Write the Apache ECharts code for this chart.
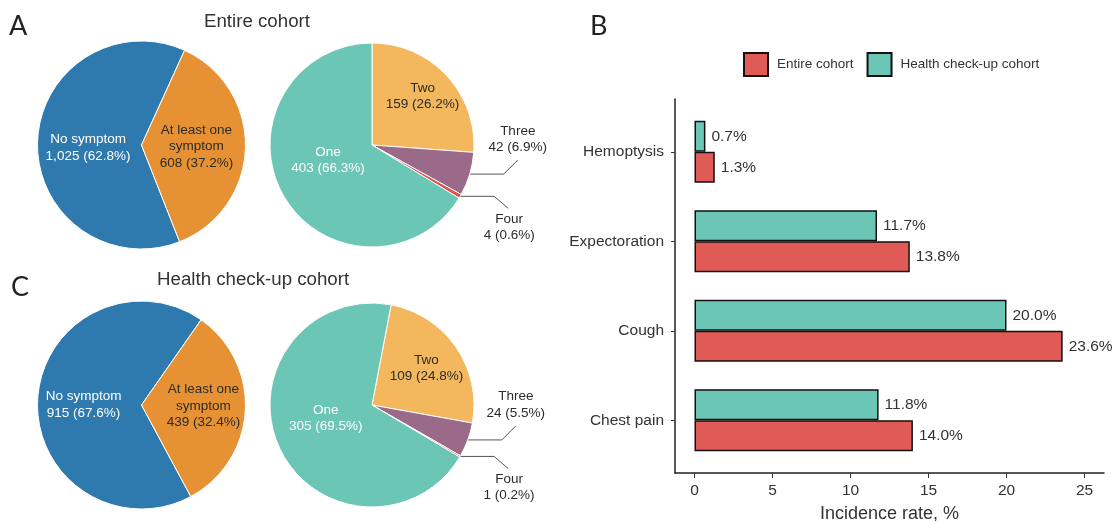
<!DOCTYPE html>
<html>
<head>
<meta charset="utf-8">
<script src="https://cdn.jsdelivr.net/npm/echarts@6/dist/echarts.min.js"></script>
<style>
  html, body { margin: 0; padding: 0; background: #fff; }
  #main { width: 1113px; height: 521px; }
</style>
</head>
<body>
<div id="main"></div>
<script>
// pie data (percent labels as printed in the figure)
var symptomNames = ['No symptom', 'At least one\nsymptom'];
var entireSymptom = [1025, 608];
var entireSymptomPct = [62.8, 37.2];
var checkupSymptom = [915, 439];
var checkupSymptomPct = [67.6, 32.4];
var countNames = ['Two', 'Three', 'Four', 'One'];
var entireCounts = [159, 42, 4, 403];
var entireCountPct = [26.2, 6.9, 0.6, 66.3];
var checkupCounts = [109, 24, 1, 305];
var checkupCountPct = [24.8, 5.5, 0.2, 69.5];

// bar data
var symptoms = ['Chest pain', 'Cough', 'Expectoration', 'Hemoptysis'];
var entireRate = [14.0, 23.6, 13.8, 1.3];
var checkupRate = [11.8, 20.0, 11.7, 0.7];
var xTicks = [0, 5, 10, 15, 20, 25];
var xMin = -1.25, xMax = 26.25;

var FONT = '"Liberation Sans", Arial, sans-serif';
var symptomColors = ['#2e79ad', '#e69234'];
var countColors = ['#f3b75d', '#9a6a88', '#e0504c', '#6cc6b6'];

function makeLabel(pcts) {
    return function (p) {
        return p.name + '\n' + echarts.format.addCommas(p.value) + ' (' + pcts[p.dataIndex].toFixed(1) + '%)';
    };
}

function symptomPie(values, pcts, center, startAngle, shifts) {
    return {
        type: 'pie',
        center: center,
        radius: 104,
        startAngle: startAngle,
        itemStyle: { borderColor: '#fff', borderWidth: 1 },
        label: {
            position: 'inside', formatter: makeLabel(pcts),
            fontFamily: FONT, fontSize: 13.5, lineHeight: 16.5
        },
        labelLayout: function (p) {
            var s = shifts[p.dataIndex];
            return { dx: s[0], dy: s[1] };
        },
        emphasis: { disabled: true },
        data: values.map(function (v, i) {
            return {
                name: symptomNames[i], value: v,
                itemStyle: { color: symptomColors[i] },
                label: { color: i === 0 ? '#fff' : '#2b2b2b' }
            };
        })
    };
}

function countPie(values, pcts, center, startAngle, shifts) {
    return {
        type: 'pie',
        center: center,
        radius: 102,
        startAngle: startAngle,
        itemStyle: { borderColor: '#fff', borderWidth: 1 },
        label: {
            position: 'inside', formatter: makeLabel(pcts),
            fontFamily: FONT, fontSize: 13.5, lineHeight: 16.5
        },
        labelLine: { show: true, length: 10, length2: 25, lineStyle: { color: '#555', width: 1 } },
        labelLayout: function (p) {
            var name = countNames[p.dataIndex];
            var a = p.labelLinePoints && p.labelLinePoints[0];
            // small slices: label up/down to the right, elbow leader line
            if (name === 'Three' && a) {
                return {
                    x: a[0] + 48, y: a[1] - 35, align: 'center', verticalAlign: 'middle',
                    labelLinePoints: [a, [a[0] + 34, a[1]], [a[0] + 48, a[1] - 14]]
                };
            }
            if (name === 'Four' && a) {
                return {
                    x: a[0] + 49, y: a[1] + 31, align: 'center', verticalAlign: 'middle',
                    labelLinePoints: [a, [a[0] + 34, a[1]], [a[0] + 48, a[1] + 12]]
                };
            }
            var s = shifts[name] || [0, 0];
            return { dx: s[0], dy: s[1] };
        },
        emphasis: { disabled: true },
        data: values.map(function (v, i) {
            var name = countNames[i];
            var outside = name === 'Three' || name === 'Four';
            return {
                name: name, value: v,
                itemStyle: { color: countColors[i] },
                label: {
                    position: outside ? 'outside' : 'inside',
                    color: name === 'One' ? '#fff' : '#2b2b2b'
                },
                labelLine: { show: outside }
            };
        })
    };
}

var letterStyle = { fontFamily: 'Lato', fontSize: 27, fontWeight: 'normal', color: '#222' };
var titleStyle = { fontFamily: FONT, fontSize: 18.7, fontWeight: 'normal', color: '#333' };

var option = {
    backgroundColor: '#fff',
    animation: false,
    textStyle: { fontFamily: FONT },
    title: [
        { text: 'A', left: 4, top: 8, textStyle: letterStyle },
        { text: 'C', left: 6, top: 269, textStyle: letterStyle },
        { text: 'B', left: 585, top: 8, textStyle: letterStyle },
        { text: 'Entire cohort', left: 199, top: 7, textStyle: titleStyle },
        { text: 'Health check-up cohort', left: 152, top: 265, textStyle: titleStyle }
    ],
    legend: {
        data: ['Entire cohort', 'Health check-up cohort'],
        left: 738, top: 47,
        icon: 'rect',
        itemWidth: 24, itemHeight: 23, itemGap: 13,
        textStyle: { fontFamily: FONT, fontSize: 13.5, color: '#333', padding: [0, 0, 0, 4] }
    },
    // grid 0 holds the bars (category bands), grid 1 draws the axis frame, ticks and labels
    grid: [
        { left: 675, width: 429, top: 107, height: 358, outerBoundsMode: 'none' },
        { left: 675, width: 429, top: 99, height: 374, outerBoundsMode: 'none' }
    ],
    xAxis: [
        { gridIndex: 0, type: 'value', min: xMin, max: xMax, show: false },
        {
            gridIndex: 1, type: 'value', min: xMin, max: xMax,
            axisLine: { show: true, onZero: false, lineStyle: { color: '#222', width: 1.5 } },
            axisTick: { show: true, customValues: xTicks, length: 5, lineStyle: { color: '#333' } },
            axisLabel: { customValues: xTicks, fontFamily: FONT, fontSize: 15.5, color: '#333', margin: 10 },
            splitLine: { show: false },
            name: 'Incidence rate, %', nameLocation: 'middle', nameGap: 32,
            nameTextStyle: { fontFamily: FONT, fontSize: 18, color: '#333' }
        }
    ],
    yAxis: [
        {
            gridIndex: 0, type: 'category', data: symptoms,
            axisLine: { show: false, onZero: false },
            axisTick: { show: true, alignWithLabel: true, length: 4, lineStyle: { color: '#333' } },
            axisLabel: { fontFamily: FONT, fontSize: 15.5, color: '#333', margin: 11 }
        },
        {
            gridIndex: 1, type: 'value', min: 0, max: 1,
            axisLine: { show: true, onZero: false, lineStyle: { color: '#222', width: 1.5 } },
            axisTick: { show: false }, axisLabel: { show: false }, splitLine: { show: false }
        }
    ],
    series: [
        symptomPie(entireSymptom, entireSymptomPct, [141.5, 145], -68.5, [[1.5, 4], [0, 0]]),
        countPie(entireCounts, entireCountPct, [372, 145], 90, { Two: [11, -12], One: [3, -11] }),
        symptomPie(checkupSymptom, checkupSymptomPct, [141.5, 405], -61.7, [[-3, 3], [7, -2]]),
        countPie(checkupCounts, checkupCountPct, [372, 405], 79.2, { Two: [10, -6], One: [3, -9] }),
        {
            name: 'Health check-up cohort', type: 'bar', xAxisIndex: 0, yAxisIndex: 0,
            data: checkupRate, barWidth: 31, barGap: '0%',
            itemStyle: { color: '#6cc6b6', borderColor: '#111', borderWidth: 1.5 },
            label: {
                show: true, position: 'right', distance: 6,
                formatter: function (p) { return p.value.toFixed(1) + '%'; },
                fontFamily: FONT, fontSize: 15.5, color: '#333'
            },
            emphasis: { disabled: true }
        },
        {
            name: 'Entire cohort', type: 'bar', xAxisIndex: 0, yAxisIndex: 0,
            data: entireRate, barWidth: 31, barGap: '0%',
            itemStyle: { color: '#e05b55', borderColor: '#111', borderWidth: 1.5 },
            label: {
                show: true, position: 'right', distance: 6,
                formatter: function (p) { return p.value.toFixed(1) + '%'; },
                fontFamily: FONT, fontSize: 15.5, color: '#333'
            },
            emphasis: { disabled: true }
        }
    ]
};

var myChart = echarts.init(document.getElementById('main'));
myChart.setOption(option);
</script>
</body>
</html>
